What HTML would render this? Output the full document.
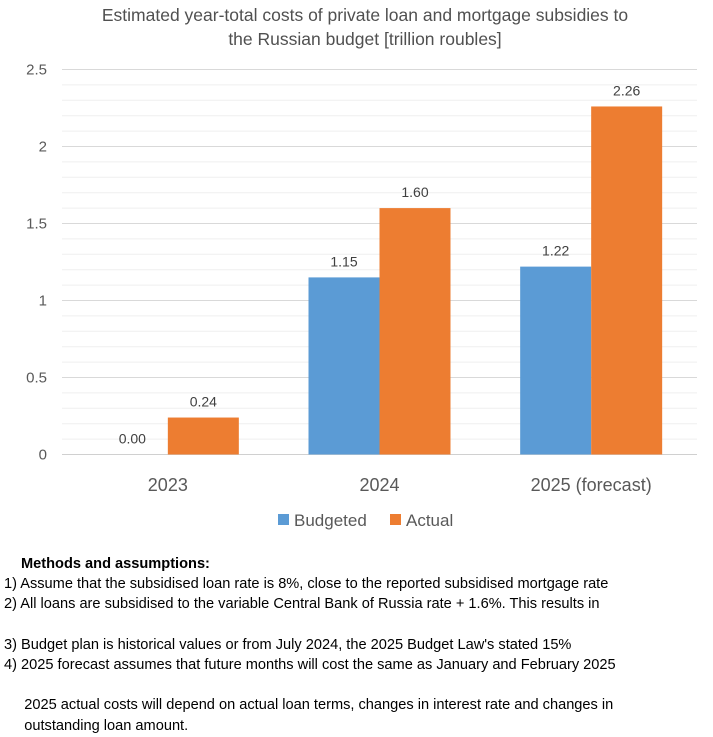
<!DOCTYPE html>
<html><head><meta charset="utf-8"><style>
body{margin:0;background:#fff;width:713px;height:737px;overflow:hidden;font-family:"Liberation Sans",sans-serif;color:#000}
svg{position:absolute;left:0;top:0}
.notes{position:absolute;left:4px;top:554px;font-size:14.6px;line-height:20.2px;white-space:pre}
</style></head><body>
<svg width="713" height="550" id="chart"></svg>
<div class="notes"><b style="padding-left:17px">Methods and assumptions:</b>
1) Assume that the subsidised loan rate is 8%, close to the reported subsidised mortgage rate
2) All loans are subsidised to the variable Central Bank of Russia rate + 1.6%. This results in

3) Budget plan is historical values or from July 2024, the 2025 Budget Law's stated 15%
4) 2025 forecast assumes that future months will cost the same as January and February 2025

     2025 actual costs will depend on actual loan terms, changes in interest rate and changes in
     outstanding loan amount.</div>
<script>
const categories=["2023","2024","2025 (forecast)"];
const budgeted=[0.00,1.15,1.22];
const actual=[0.24,1.60,2.26];
const yTicks=[0,0.5,1,1.5,2,2.5];
const seriesNames=["Budgeted","Actual"];
const colors=["#5b9bd5","#ed7d31"];
const NS="http://www.w3.org/2000/svg";
const svg=document.getElementById("chart");
const L=62,R=697,Y0=454.5,Ymax=2.5,Ytop=69.5;
const y=v=>Y0-(v/Ymax)*(Y0-Ytop);
const cw=(R-L)/categories.length,bw=71;
const cx=i=>L+cw*(i+0.5);
function el(t,a,txt){const e=document.createElementNS(NS,t);for(const k in a)e.setAttribute(k,a[k]);if(txt!==undefined)e.textContent=txt;svg.appendChild(e);return e;}
const title=el("text",{x:365,y:21,"text-anchor":"middle","font-size":17.5,fill:"#505050"},"Estimated year-total costs of private loan and mortgage subsidies to");


const title2=el("text",{x:365,y:45,"text-anchor":"middle","font-size":17.5,fill:"#505050"},"the Russian budget [trillion roubles]");


for(let v=0.1;v<Ymax+0.001;v+=0.1){const g=el("line",{x1:L,x2:R,y1:y(v),y2:y(v),stroke:"#efefef","stroke-width":1});

}
yTicks.forEach(t=>{
const g=el("line",{x1:L,x2:R,y1:y(t),y2:y(t),stroke:t===0?"#d0d0d0":"#d9d9d9","stroke-width":1});


const lb=el("text",{x:47,y:y(t)+5,"text-anchor":"end","font-size":15,fill:"#595959"},String(t));


});
[budgeted,actual].forEach((s,si)=>{
s.forEach((v,i)=>{
const x0=cx(i)-bw+si*bw;
const r=el("rect",{x:x0,y:y(v),width:bw,height:Y0-y(v),fill:colors[si]});


const t=el("text",{x:x0+bw/2,y:y(v)-11,"text-anchor":"middle","font-size":14,fill:"#404040"},v.toFixed(2));


});});
categories.forEach((c,i)=>{
const t=el("text",{x:cx(i),y:491,"text-anchor":"middle","font-size":18,fill:"#595959"},c);


});
const lx=[278,390];
seriesNames.forEach((n,i)=>{
const r=el("rect",{x:lx[i],y:514,width:11,height:11,fill:colors[i]});


const t=el("text",{x:lx[i]+16,y:526,"font-size":17,fill:"#595959"},n);


});
</script>
</body></html>
